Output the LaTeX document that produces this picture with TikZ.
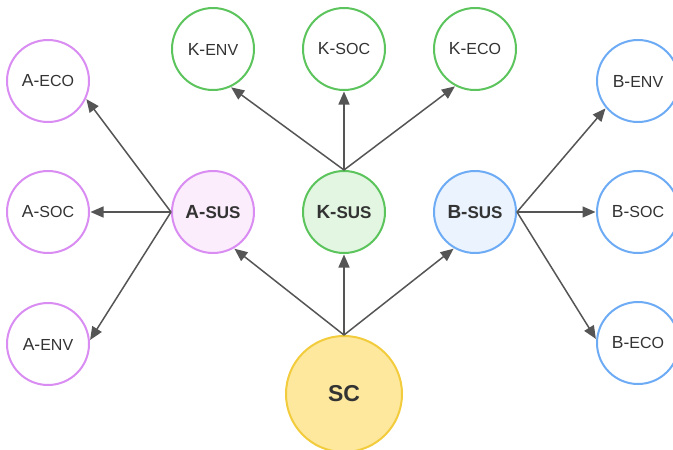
\documentclass[tikz,border=0pt]{standalone}
\usepackage{fontspec}
\setmainfont{Liberation Sans}
\usetikzlibrary{arrows.meta}

\definecolor{purpleline}{RGB}{217,140,242}
\definecolor{purplefill}{RGB}{252,237,252}
\definecolor{greenline}{RGB}{92,196,92}
\definecolor{greenfill}{RGB}{226,246,226}
\definecolor{blueline}{RGB}{109,171,245}
\definecolor{bluefill}{RGB}{234,243,254}
\definecolor{yellowline}{RGB}{242,204,60}
\definecolor{yellowfill}{RGB}{253,232,158}
\definecolor{arrowgray}{RGB}{85,85,85}
\definecolor{textgray}{RGB}{51,51,51}

% label with a large initial and smaller capitals after the hyphen
\newcommand\leaflbl[2]{{\fontsize{17.5}{17.5}\selectfont #1-}{\fontsize{16}{16}\selectfont #2}}
\newcommand\hublbl[2]{\bfseries{\fontsize{19}{19}\selectfont #1-}{\fontsize{17}{17}\selectfont #2}}

\tikzset{
  bubble/.style={circle, draw, line width=2pt, inner sep=0pt, minimum size=82pt,
                 text=textgray, fill=white},
  apurple/.style={bubble, draw=purpleline},
  kgreen/.style={bubble, draw=greenline},
  bblue/.style={bubble, draw=blueline},
  link/.style={draw=arrowgray, line width=1.5pt,
               -{Triangle[length=13pt, width=11pt]}, shorten >=0.5pt},
}

\begin{document}
\begin{tikzpicture}[x=1pt, y=-1pt]
  \useasboundingbox (0,0) rectangle (673,450);

  % root
  \node[bubble, draw=yellowline, fill=yellowfill, minimum size=116pt]
       (sc) at (344,394) {\bfseries\fontsize{23}{23}\selectfont SC};

  % sustainability hubs
  \node[apurple, fill=purplefill] (asus) at (213,212) {\hublbl{A}{SUS}};
  \node[kgreen,  fill=greenfill]  (ksus) at (344,212) {\hublbl{K}{SUS}};
  \node[bblue,   fill=bluefill]   (bsus) at (475,212) {\hublbl{B}{SUS}};

  % A leaves
  \node[apurple] (aeco) at (48,81)  {\leaflbl{A}{ECO}};
  \node[apurple] (asoc) at (48,212) {\leaflbl{A}{SOC}};
  \node[apurple] (aenv) at (48,344) {\leaflbl{A}{ENV}};

  % K leaves
  \node[kgreen] (kenv) at (213,49) {\leaflbl{K}{ENV}};
  \node[kgreen] (ksoc) at (344,49) {\leaflbl{K}{SOC}};
  \node[kgreen] (keco) at (475,49) {\leaflbl{K}{ECO}};

  % B leaves
  \node[bblue] (benv) at (638,81)  {\leaflbl{B}{ENV}};
  \node[bblue] (bsoc) at (638,212) {\leaflbl{B}{SOC}};
  \node[bblue] (beco) at (638,343) {\leaflbl{B}{ECO}};

  % root to hubs
  \draw[link] (sc.north) -- (asus.-60);
  \draw[link] (sc.north) -- (ksus.south);
  \draw[link] (sc.north) -- (bsus.-120);

  % K hub to its leaves
  \draw[link] (ksus.north) -- (kenv.-65);
  \draw[link] (ksus.north) -- (ksoc.south);
  \draw[link] (ksus.north) -- (keco.-118);

  % A hub to its leaves
  \draw[link] (asus.west) -- (aeco.-25);
  \draw[link] (asus.west) -- (asoc.east);
  \draw[link] (asus.west) -- (aenv.5);

  % B hub to its leaves
  \draw[link] (bsus.east) -- (benv.-140);
  \draw[link] (bsus.east) -- (bsoc.west);
  \draw[link] (bsus.east) -- (beco.175);
\end{tikzpicture}
\end{document}
